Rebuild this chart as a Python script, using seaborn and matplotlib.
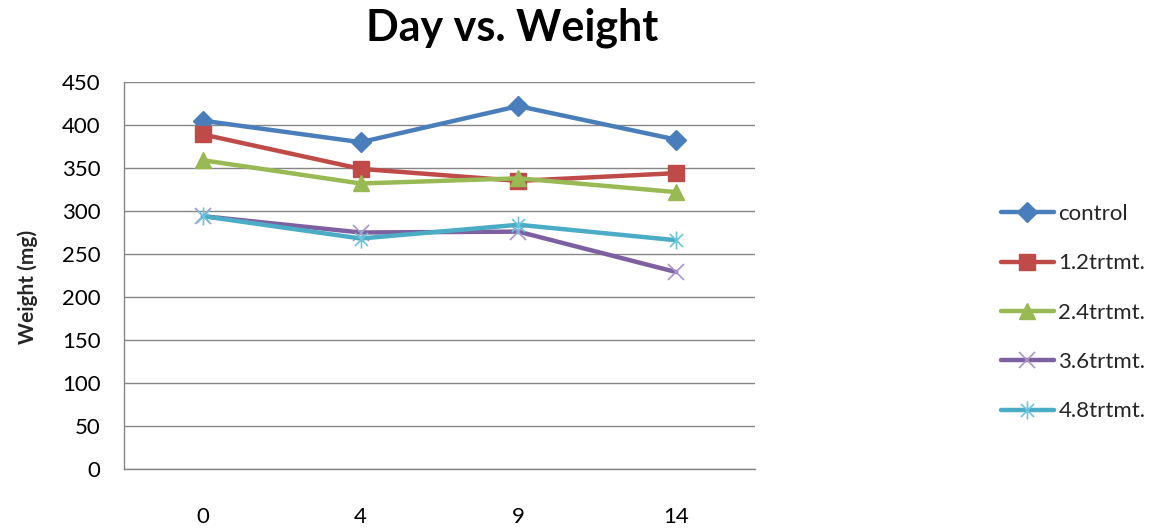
import matplotlib
matplotlib.use("Agg")
import matplotlib.pyplot as plt
from matplotlib.path import Path
import seaborn as sns
import pandas as pd

days = ["0", "4", "9", "14"]
series_names = ["control", "1.2trtmt.", "2.4trtmt.", "3.6trtmt.", "4.8trtmt."]
control = [405, 380, 422, 383]
trt_12 = [389, 349, 335, 344]
trt_24 = [359, 332, 338, 322]
trt_36 = [294, 275, 276, 229]
trt_48 = [294, 268, 284, 266]
y_ticks = [0, 50, 100, 150, 200, 250, 300, 350, 400, 450]

sns.set_theme(style="white")
plt.rcParams["font.family"] = ["Lato", "DejaVu Sans"]

# asterisk marker: vertical bar plus an x
star = Path(
    [(0, -1), (0, 1), (-0.72, -0.72), (0.72, 0.72), (-0.72, 0.72), (0.72, -0.72)],
    [Path.MOVETO, Path.LINETO, Path.MOVETO, Path.LINETO, Path.MOVETO, Path.LINETO],
)

styles = [
    dict(color="#4A7EBB", marker="D", ms=10, mfc="#4A7EBB", mec="#4A7EBB", mew=1),
    dict(color="#BE4B48", marker="s", ms=12, mfc="#BE4B48", mec="#BE4B48", mew=1),
    dict(color="#98B954", marker="^", ms=12, mfc="#98B954", mec="#98B954", mew=1),
    dict(color="#7D60A0", marker="x", ms=12, mfc="none", mec="#A994C8", mew=1.2),
    dict(color="#4BACC6", marker=star, ms=13, mfc="none", mec="#6CC4DC", mew=1.2),
]
values = [control, trt_12, trt_24, trt_36, trt_48]

rows = []
for name, vals in zip(series_names, values):
    for i, v in enumerate(vals):
        rows.append({"pos": i, "day": days[i], "series": name, "weight": v})
df = pd.DataFrame(rows)

fig = plt.figure(figsize=(11.67, 5.29), dpi=100)
ax = fig.add_axes([0.1063, 0.1134, 0.5407, 0.7316])

for name, st in zip(series_names, styles):
    sub = df[df["series"] == name]
    sns.lineplot(data=sub, x="pos", y="weight", ax=ax, color=st["color"],
                 linewidth=3.2, marker=st["marker"], markersize=st["ms"],
                 markerfacecolor=st["mfc"], markeredgecolor=st["mec"],
                 markeredgewidth=st["mew"], label=name, legend=False)

ax.set_xlim(-0.5, 3.5)
ax.set_ylim(0, 450)
ax.set_xticks(range(len(days)))
ax.set_xticklabels(days)
ax.set_yticks(y_ticks)
ax.yaxis.grid(True, color="#868686", linewidth=1)
ax.xaxis.grid(False)
for side in ["top", "right"]:
    ax.spines[side].set_visible(False)
for side in ["left", "bottom"]:
    ax.spines[side].set_color("#868686")
    ax.spines[side].set_linewidth(1)
ax.tick_params(axis="both", labelsize=16, colors="#000000", length=0)
ax.tick_params(axis="x", pad=27)
ax.tick_params(axis="y", pad=17)
ax.set_xlabel("")
ax.set_ylabel("Weight (mg)", fontsize=15, fontweight="bold")
ax.yaxis.set_label_coords(-0.137, 0.47)
fig.text(0.439, 0.948, "Day vs. Weight", fontsize=31, fontweight="bold",
         ha="center", va="center", color="#000000")

leg = ax.legend(loc="center left", bbox_to_anchor=(1.375, 0.404), frameon=False,
                fontsize=16, handlelength=2.4, labelspacing=1.32, handletextpad=0.2,
                borderaxespad=0)

fig.savefig("out.png", dpi=100)
